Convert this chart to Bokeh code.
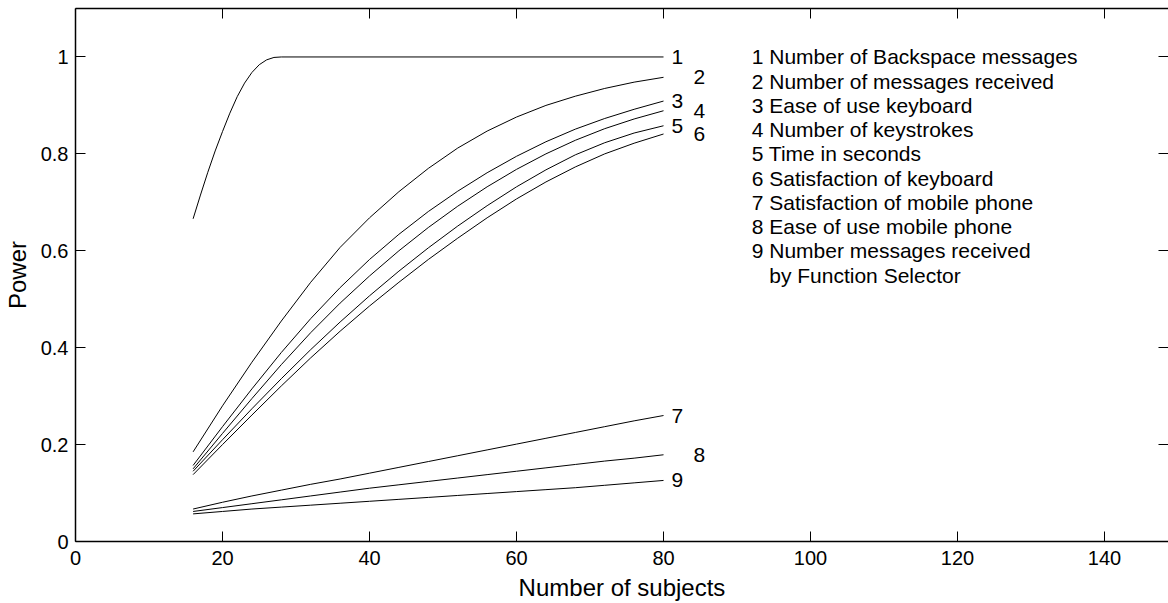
from bokeh.plotting import figure
from bokeh.models import LinearAxis, FixedTicker, ColumnDataSource, Range1d
from bokeh.core.properties import value
from bokeh.embed import file_html
from bokeh.resources import INLINE

# ---------------- data ----------------
subjects_1 = [16, 17, 18, 19, 20, 21, 22, 23, 24, 25, 26, 27, 28, 80]
power_1 = [0.666, 0.715, 0.762, 0.806, 0.846, 0.884, 0.918, 0.946, 0.968, 0.984, 0.994, 0.999, 1.0, 1.0]

subjects = [16, 20, 24, 28, 32, 36, 40, 44, 48, 52, 56, 60, 64, 68, 72, 76, 80]
power_2 = [0.185, 0.280, 0.370, 0.455, 0.535, 0.607, 0.668, 0.722, 0.770, 0.812, 0.847, 0.876, 0.900, 0.919, 0.935, 0.948, 0.958]
power_3 = [0.157, 0.237, 0.315, 0.390, 0.460, 0.524, 0.582, 0.634, 0.681, 0.723, 0.761, 0.795, 0.825, 0.851, 0.873, 0.892, 0.909]
power_4 = [0.150, 0.223, 0.295, 0.365, 0.431, 0.492, 0.548, 0.600, 0.648, 0.692, 0.732, 0.768, 0.800, 0.828, 0.852, 0.872, 0.889]
power_5 = [0.145, 0.210, 0.274, 0.336, 0.396, 0.453, 0.507, 0.558, 0.606, 0.651, 0.693, 0.732, 0.767, 0.798, 0.823, 0.843, 0.858]
power_6 = [0.138, 0.200, 0.261, 0.321, 0.379, 0.434, 0.486, 0.535, 0.582, 0.626, 0.668, 0.707, 0.742, 0.773, 0.800, 0.822, 0.841]
power_7 = [0.067, 0.081, 0.094, 0.106, 0.118, 0.129, 0.141, 0.153, 0.165, 0.177, 0.189, 0.201, 0.213, 0.225, 0.237, 0.249, 0.260]
power_8 = [0.062, 0.070, 0.078, 0.086, 0.094, 0.102, 0.110, 0.117, 0.124, 0.131, 0.138, 0.145, 0.152, 0.159, 0.166, 0.172, 0.179]
power_9 = [0.057, 0.062, 0.067, 0.071, 0.075, 0.079, 0.083, 0.087, 0.091, 0.095, 0.099, 0.103, 0.107, 0.111, 0.116, 0.121, 0.126]

curve_labels = ["1", "2", "3", "4", "5", "6", "7", "8", "9"]
legend_lines = [
    "1 Number of Backspace messages",
    "2 Number of messages received",
    "3 Ease of use keyboard",
    "4 Number of keystrokes",
    "5 Time in seconds",
    "6 Satisfaction of keyboard",
    "7 Satisfaction of mobile phone",
    "8 Ease of use mobile phone",
    "9 Number messages received",
]
legend_continuation = "by Function Selector"

x_ticks = [0, 20, 40, 60, 80, 100, 120, 140]
x_tick_labels = ["0", "20", "40", "60", "80", "100", "120", "140"]
y_ticks = [0, 0.2, 0.4, 0.6, 0.8, 1.0]
y_tick_labels = ["0", "0.2", "0.4", "0.6", "0.8", "1"]

# ---------------- figure ----------------
FONT = "Liberation Sans"

p = figure(
    width=1168, height=603,
    x_range=Range1d(0, 148.7), y_range=Range1d(0, 1.1),
    output_backend="svg", toolbar_location=None,
    min_border_left=74, min_border_right=0, min_border_top=8, min_border_bottom=0,
    x_axis_label="Number of subjects", y_axis_label="Power",
)
p.xgrid.visible = False
p.ygrid.visible = False
p.outline_line_color = None
p.background_fill_color = "white"
p.border_fill_color = "white"

bottom_axis = p.below[0]
left_axis = p.left[0]
top_axis = LinearAxis()
right_axis = LinearAxis()
p.add_layout(top_axis, "above")
p.add_layout(right_axis, "right")

for ax in [bottom_axis, top_axis]:
    ax.ticker = FixedTicker(ticks=x_ticks)
for ax in [left_axis, right_axis]:
    ax.ticker = FixedTicker(ticks=y_ticks)
bottom_axis.major_label_overrides = {t: s for t, s in zip(x_ticks, x_tick_labels)}
left_axis.major_label_overrides = {t: s for t, s in zip(y_ticks, y_tick_labels)}
top_axis.major_label_overrides = {t: "" for t in x_ticks}
right_axis.major_label_overrides = {t: "" for t in y_ticks}

for ax in [bottom_axis, left_axis, top_axis, right_axis]:
    ax.major_tick_in = 10
    ax.major_tick_out = 0
    ax.minor_tick_line_color = None
    ax.axis_line_color = "black"
    ax.axis_line_width = 1.5
    ax.major_tick_line_color = "black"
    ax.major_tick_line_width = 1
    ax.major_label_text_font = FONT
    ax.major_label_text_font_size = "20px"
    ax.major_label_text_color = "black"
    ax.axis_label_text_font = FONT
    ax.axis_label_text_font_size = "24px"
    ax.axis_label_text_font_style = "normal"
    ax.axis_label_text_color = "black"

for ax in [top_axis, right_axis]:
    ax.major_label_text_font_size = "1px"
    ax.major_label_standoff = 0
right_axis.axis_line_color = None

bottom_axis.major_label_standoff = 9
bottom_axis.axis_label_standoff = 6
left_axis.major_label_standoff = 7
left_axis.axis_label_standoff = 7

# ---------------- curves ----------------
series = [
    (subjects_1, power_1),
    (subjects, power_2),
    (subjects, power_3),
    (subjects, power_4),
    (subjects, power_5),
    (subjects, power_6),
    (subjects, power_7),
    (subjects, power_8),
    (subjects, power_9),
]
for xs, ys in series:
    p.line(xs, ys, line_color="black", line_width=1)

# labels at curve ends (odd labels close, even labels shifted right)
end_src = ColumnDataSource(dict(
    x=[xs[-1] for xs, _ in series],
    y=[ys[-1] for _, ys in series],
    text=curve_labels,
    xo=[8 if i % 2 == 0 else 30 for i in range(len(series))],
))
p.text(x="x", y="y", text="text", x_offset="xo", source=end_src,
       text_font=value(FONT), text_font_size="21px", text_color="black",
       text_baseline="middle", text_align="left")

# legend text block
legend_x = 92.0
legend_top = 1.0
legend_step = 0.05
leg_src = ColumnDataSource(dict(
    x=[legend_x] * len(legend_lines),
    y=[legend_top - legend_step * i for i in range(len(legend_lines))],
    text=legend_lines,
))
p.text(x="x", y="y", text="text", source=leg_src,
       text_font=value(FONT), text_font_size="21px", text_color="black",
       text_baseline="middle", text_align="left")
p.text(x=[legend_x], y=[legend_top - legend_step * len(legend_lines)],
       text=[legend_continuation], x_offset=17.5,
       text_font=value(FONT), text_font_size="21px", text_color="black",
       text_baseline="middle", text_align="left")

open("out.html", "w").write(file_html(p, INLINE))
